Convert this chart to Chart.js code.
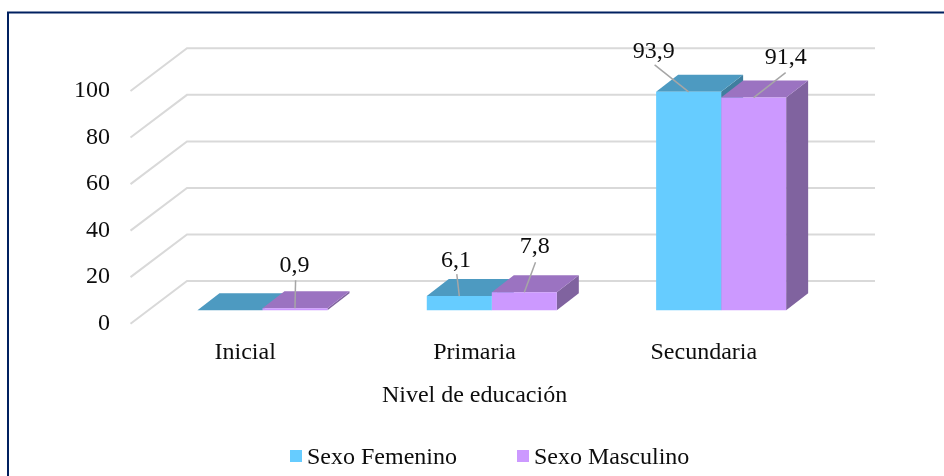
<!DOCTYPE html>
<html>
<head>
<meta charset="utf-8">
<script src="https://cdn.jsdelivr.net/npm/chart.js@4"></script>
<style>
  html, body { margin: 0; padding: 0; background: #fff; }
  #wrap { position: relative; width: 944px; height: 476px; overflow: hidden; }
  #legend { position: absolute; top: 444px; left: 290px; display: flex; font: 24px "Liberation Serif", serif; color: #0d0d0d; line-height: 24px; }
  #legend span.item { display: flex; align-items: center; margin-right: 60px; white-space: nowrap; }
  #legend i { display: block; width: 12px; height: 12px; margin-right: 5px; }
</style>
</head>
<body>
<div id="wrap">
  <canvas id="chart" width="944" height="476"></canvas>
  <div id="legend"></div>
</div>
<script>
const categories = ['Inicial', 'Primaria', 'Secundaria'];
const femenino = [0, 6.1, 93.9];
const masculino = [0.9, 7.8, 91.4];
const seriesNames = ['Sexo Femenino', 'Sexo Masculino'];

const frontColors = ['#66ccff', '#cc99ff'];
const topColors = ['#4d9ac1', '#9b73c1'];
const sideColors = ['#3f7e9e', '#80639f'];

const fontName = '"Liberation Serif", serif';
const fontSize = 24;
const textColor = '#0d0d0d';

// 3d look: back wall is offset from the axis plane, bars stand part way into the floor
const wallDx = 56.5, wallDy = -42.7;
const barPlaneDx = 17.3, barPlaneDy = -13.4;
const barDepthDx = 22, barDepthDy = -17;

// hand placed labels: leader start from the bar top, then label centre from leader start
const leaderOffsets = [
  [null, [-2.5, -22], [-34, -27]],
  [[0.6, -28], [11.2, -30], [32, -25]]
];
const labelGap = [
  [null, [-0.7, -13], [-1, -13]],
  [[-1, -15], [-0.7, -15], [0, -14.5]]
];

const threeD = {
  id: 'threeD',
  beforeDraw(chart) {
    const c = chart.ctx;
    c.save();
    c.strokeStyle = '#002060';
    c.lineWidth = 2;
    c.beginPath();
    c.moveTo(8, 476);
    c.lineTo(8, 12.5);
    c.lineTo(944, 12.5);
    c.stroke();
    c.restore();
  },
  beforeDatasetsDraw(chart) {
    const c = chart.ctx;
    const { x, y } = chart.scales;
    c.save();
    c.strokeStyle = '#d9d9d9';
    c.lineWidth = 2;
    y.ticks.forEach(t => {
      const py = y.getPixelForValue(t.value);
      c.beginPath();
      c.moveTo(x.left, py);
      c.lineTo(x.left + wallDx, py + wallDy);
      c.lineTo(x.right + wallDx, py + wallDy);
      c.stroke();
    });
    c.restore();

    // all native bars get shifted onto the bar plane
    c.save();
    c.translate(barPlaneDx, barPlaneDy);
    categories.forEach((_, i) => {
      chart.data.datasets.forEach((ds, d) => {
        const b = chart.getDatasetMeta(d).data[i];
        const l = b.x - b.width / 2, r = b.x + b.width / 2, t = b.y, base = b.base;
        c.fillStyle = sideColors[d];
        c.beginPath();
        c.moveTo(r, t);
        c.lineTo(r + barDepthDx, t + barDepthDy);
        c.lineTo(r + barDepthDx, base + barDepthDy);
        c.lineTo(r, base);
        c.closePath();
        c.fill();
        c.fillStyle = topColors[d];
        c.beginPath();
        c.moveTo(l, t);
        c.lineTo(l + barDepthDx, t + barDepthDy);
        c.lineTo(r + barDepthDx, t + barDepthDy);
        c.lineTo(r, t);
        c.closePath();
        c.fill();
      });
    });
  },
  afterDatasetsDraw(chart) {
    const c = chart.ctx;
    c.font = fontSize + 'px ' + fontName;
    c.textAlign = 'center';
    c.textBaseline = 'middle';
    chart.data.datasets.forEach((ds, d) => {
      chart.getDatasetMeta(d).data.forEach((b, i) => {
        const off = leaderOffsets[d][i];
        if (!off) return;
        const sx = b.x + off[0], sy = b.y + off[1];
        c.strokeStyle = '#a6a6a6';
        c.lineWidth = 1.5;
        c.beginPath();
        c.moveTo(sx, sy);
        c.lineTo(b.x, b.y);
        c.stroke();
        c.fillStyle = textColor;
        c.fillText(String(ds.data[i]).replace('.', ','), sx + labelGap[d][i][0], sy + labelGap[d][i][1]);
      });
    });
    c.restore();
  }
};

new Chart(document.getElementById('chart'), {
  type: 'bar',
  data: {
    labels: categories,
    datasets: [
      { label: seriesNames[0], data: femenino, backgroundColor: frontColors[0], clip: false },
      { label: seriesNames[1], data: masculino, backgroundColor: frontColors[1], clip: false }
    ]
  },
  options: {
    responsive: false,
    animation: false,
    events: [],
    layout: { padding: { left: 0, right: 125.5, top: 91, bottom: 65.9 } },
    datasets: { bar: { categoryPercentage: 0.567, barPercentage: 1 } },
    plugins: { legend: { display: false }, tooltip: { enabled: false } },
    scales: {
      x: {
        grid: { display: false },
        border: { display: false },
        ticks: { color: textColor, padding: 7.1, font: { family: fontName, size: fontSize } },
        title: {
          display: true,
          text: 'Nivel de educación',
          color: textColor,
          padding: { top: 6.6, bottom: 0 },
          font: { family: fontName, size: fontSize }
        }
      },
      y: {
        min: 0,
        max: 100,
        grid: { display: false },
        border: { display: false },
        afterFit: s => { s.width = 130.5; },
        ticks: { stepSize: 20, color: textColor, padding: 12.5, font: { family: fontName, size: fontSize } }
      }
    }
  },
  plugins: [threeD]
});

const legendBox = document.getElementById('legend');
seriesNames.forEach((name, i) => {
  const item = document.createElement('span');
  item.className = 'item';
  const swatch = document.createElement('i');
  swatch.style.background = frontColors[i];
  item.appendChild(swatch);
  item.appendChild(document.createTextNode(name));
  legendBox.appendChild(item);
});
</script>
</body>
</html>
